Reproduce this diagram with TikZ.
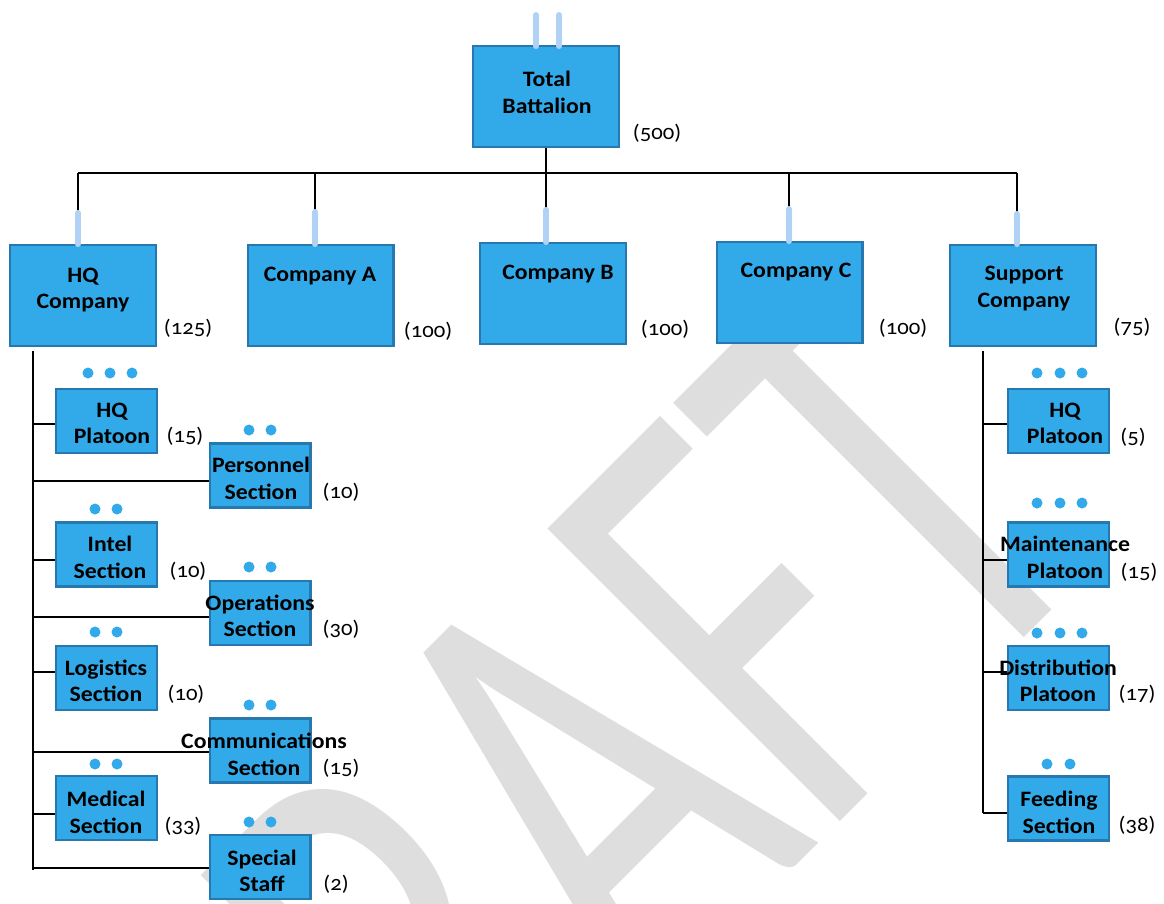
\documentclass[tikz,border=0pt]{standalone}
\usepackage{fontspec}
\setmainfont{Carlito}[Numbers=OldStyle, FakeStretch=1.08]
\newfontfamily\wmfont{Carlito}
\usepackage{graphicx}
\definecolor{boxfill}{HTML}{32AAEA}
\definecolor{boxline}{HTML}{2878B0}
\definecolor{tabblue}{HTML}{B0D3F5}
\definecolor{wmgray}{HTML}{DEDEDE}
\tikzset{
  unit/.style={draw=boxline, fill=boxfill, line width=2.4pt, inner sep=0pt},
  bigunit/.style={unit, minimum width=145.6pt, minimum height=100.6pt},
  smallunit/.style={unit, minimum width=100.6pt, minimum height=64pt},
  title/.style={font=\fontsize{22}{26.5}\selectfont\bfseries, align=center, inner sep=0pt},
  strength/.style={font=\fontsize{21}{25}\selectfont, inner sep=0pt},
  link/.style={line width=1.3pt},
  tab/.style={draw=tabblue, line width=6pt, line cap=round},
  wmark/.style={text=wmgray, font=\wmfont\fontsize{645}{645}\selectfont, inner sep=0pt},
}
\begin{document}
\begin{tikzpicture}[x=1pt,y=-1pt]
\useasboundingbox (0,0) rectangle (1164,903);
\clip (0,0) rectangle (1164,903);
% watermark behind everything
\node[wmark, anchor=base west, rotate=45] (draft) at (281,1381) {\scalebox{0.68}[1]{DRAFT}};

% battalion
\node[bigunit] (tb) at (546,96.5) {};
\node[title] (tb-t) at (547,92.5) {Total\\Battalion};
\node[strength] (tb-n) at (657,133) {(500)};
\draw[tab] (536,15) -- (536,46);
\draw[tab] (559,15) -- (559,46);

% companies
\node[bigunit] (hqc) at (83,295.5) {};
\node[title] (hqc-t) at (83,290) {HQ\\Company};
\node[strength] (hqc-n) at (188,328) {(125)};
\node[bigunit] (coa) at (320.5,295.5) {};
\node[title] (coa-t) at (320,276) {Company A};
\node[strength] (coa-n) at (428,331) {(100)};
\node[bigunit] (cob) at (553,293.5) {};
\node[title] (cob-t) at (558,274) {Company B};
\node[strength] (cob-n) at (665,329) {(100)};
\node[bigunit] (coc) at (789.5,292.5) {};
\node[title] (coc-t) at (796,272) {Company C};
\node[strength] (coc-n) at (903,328) {(100)};
\node[bigunit] (sup) at (1023,295.5) {};
\node[title] (sup-t) at (1024,288.5) {Support\\Company};
\node[strength] (sup-n) at (1132,327) {(75)};

\coordinate (bus) at (546,173);
\coordinate (hqc-tab) at (78,213);
\coordinate (coa-tab) at (315,212);
\coordinate (cob-tab) at (546,210);
\coordinate (coc-tab) at (789,209);
\coordinate (sup-tab) at (1017,214);
\draw[link] (tb.south) -- (bus);
\draw[link] (hqc-tab |- bus) -- (sup-tab |- bus);
\foreach \c in {hqc,coa,cob,coc,sup} {
  \draw[link] (\c-tab |- bus) -- (\c-tab);
  \draw[tab] (\c-tab) -- (\c-tab |- \c.north);
}

% HQ company sections
\node[smallunit] (hqp) at (106.5,421) {};
\node[title] (hqp-t) at (112,423.5) {HQ\\Platoon};
\node[strength] (hqp-n) at (185,436) {(15)};
\node[smallunit] (per) at (260,475.5) {};
\node[title] (per-t) at (261,478.5) {Personnel\\Section};
\node[strength] (per-n) at (341,492) {(10)};
\node[smallunit] (int) at (106.5,554.5) {};
\node[title] (int-t) at (110,557.5) {Intel\\Section};
\node[strength] (int-n) at (188,571) {(10)};
\node[smallunit] (ops) at (260,613) {};
\node[title] (ops-t) at (260,616) {Operations\\Section};
\node[strength] (ops-n) at (341,629) {(30)};
\node[smallunit] (log) at (106.5,678) {};
\node[title] (log-t) at (106,681) {Logistics\\Section};
\node[strength] (log-n) at (186,694) {(10)};
\node[smallunit] (com) at (260,750.5) {};
\node[title] (com-t) at (264,754.5) {Communications\\Section};
\node[strength] (com-n) at (341,768) {(15)};
\node[smallunit] (med) at (106.5,808) {};
\node[title] (med-t) at (106,812.5) {Medical\\Section};
\node[strength] (med-n) at (183,826) {(33)};
\node[smallunit] (spe) at (260,867) {};
\node[title] (spe-t) at (262,871) {Special\\Staff};
\node[strength] (spe-n) at (336,884) {(2)};

% support company platoons
\node[smallunit] (shq) at (1058.5,421) {};
\node[title] (shq-t) at (1065,423.5) {HQ\\Platoon};
\node[strength] (shq-n) at (1133,437) {(5)};
\node[smallunit] (mnt) at (1058.5,554.5) {};
\node[title] (mnt-t) at (1065,557.5) {Maintenance\\Platoon};
\node[strength] (mnt-n) at (1139,572) {(15)};
\node[smallunit] (dst) at (1058.5,678) {};
\node[title] (dst-t) at (1058,681) {Distribution\\Platoon};
\node[strength] (dst-n) at (1137,694) {(17)};
\node[smallunit] (fed) at (1058.5,808.5) {};
\node[title] (fed-t) at (1059,812.5) {Feeding\\Section};
\node[strength] (fed-n) at (1137,825) {(38)};

% trunks
\coordinate (hqc-trunk) at (33,351);
\draw[link] (hqc-trunk) -- (33,870);
\foreach \n/\y in {hqp/424, per/481, int/560, ops/617, log/672, com/752, med/814, spe/868}
  \draw[link] (hqc-trunk |- 0,\y) -- (\n.west |- 0,\y);
\coordinate (sup-trunk) at (983,351);
\draw[link] (sup-trunk) -- (983,813);
\foreach \n/\y in {shq/424, mnt/560, dst/672, fed/813}
  \draw[link] (sup-trunk |- 0,\y) -- (\n.west |- 0,\y);

% strength dots
\foreach \x/\y in {88/373,110/373,132/373, 249/430,271/430, 95/509,117/509,
    249/567,271/567, 95/632,117/632, 249/705,271/705, 95/764,117/764,
    249/822,271/822, 1037/373,1060/373,1082/373, 1037/503,1060/503,1082/503,
    1037/633,1060/633,1082/633, 1047/764,1070/764}
  \fill[boxfill] (\x,\y) circle (5.5pt);
\end{tikzpicture}
\end{document}
